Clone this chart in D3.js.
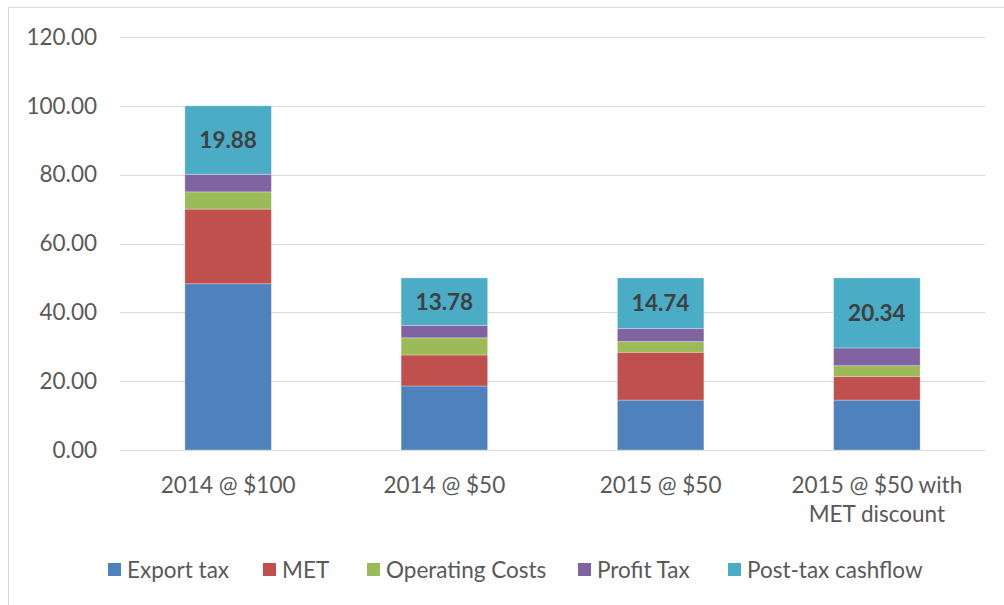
<!DOCTYPE html>
<html><head><meta charset="utf-8">
<script src="https://cdn.jsdelivr.net/npm/d3@7"></script>
<style>body{margin:0;background:#fff;} svg{display:block;font-family:Lato, "Open Sans", sans-serif;}</style>
</head><body>
<svg id="chart" width="1004" height="605"></svg>
<script>
const categories = ["2014 @ $100", "2014 @ $50", "2015 @ $50", "2015 @ $50 with MET discount"];
const seriesNames = ["Export tax", "MET", "Operating Costs", "Profit Tax", "Post-tax cashflow"];
const exportTax = [48.3, 18.6, 14.5, 14.5];
const met = [21.7, 9.0, 13.9, 6.9];
const operatingCosts = [5.0, 5.0, 3.1, 3.1];
const profitTax = [5.12, 3.62, 3.76, 5.16];
const postTaxCashflow = [19.88, 13.78, 14.74, 20.34];
const yTicks = [0, 20, 40, 60, 80, 100, 120];
const colors = ["#4f81bd", "#c0504d", "#9bbb59", "#8064a2", "#4bacc6"];

const seriesValues = [exportTax, met, operatingCosts, profitTax, postTaxCashflow];
const rows = categories.map((c, i) => {
  const r = {cat: c};
  seriesNames.forEach((s, j) => r[s] = seriesValues[j][i]);
  return r;
});
const stack = d3.stack().keys(seriesNames)(rows);

const FS = 22.5;
const svg = d3.select("#chart");
svg.append("rect").attr("x", 8.5).attr("y", 7.5).attr("width", 1010).attr("height", 620)
  .attr("fill", "none").attr("stroke", "#d9d9d9").attr("stroke-width", 1);

const pLeft = 120, pRight = 985, pTop = 37, pBottom = 450;
const x = d3.scaleBand().domain(categories).range([pLeft, pRight]).paddingInner(0.6).paddingOuter(0.3);
const y = d3.scaleLinear().domain([0, 120]).range([pBottom, pTop]);

svg.append("g").selectAll("line").data(yTicks).join("line")
  .attr("x1", pLeft).attr("x2", pRight)
  .attr("y1", d => Math.round(y(d)) + 0.5).attr("y2", d => Math.round(y(d)) + 0.5)
  .attr("stroke", "#d9d9d9").attr("stroke-width", 1);

const yAxis = d3.axisLeft(y).tickValues(yTicks).tickFormat(d3.format(".2f")).tickSize(0).tickPadding(0);
const ya = svg.append("g").attr("transform", `translate(97,0)`).call(yAxis);
ya.select(".domain").remove();
ya.selectAll("text").attr("font-size", FS).attr("fill", "#595959").attr("font-family", "Lato, sans-serif");

svg.append("g").selectAll("g").data(stack).join("g")
  .attr("fill", (d, i) => colors[i])
  .selectAll("rect").data(d => d).join("rect")
  .attr("x", d => x(d.data.cat))
  .attr("width", x.bandwidth())
  .attr("y", d => y(d[1]))
  .attr("height", d => y(d[0]) - y(d[1]))
  .attr("stroke", "#ffffff").attr("stroke-opacity", 0.35).attr("stroke-width", 0.8);

const last = stack[stack.length - 1];
svg.append("g").selectAll("text").data(last).join("text")
  .attr("x", d => x(d.data.cat) + x.bandwidth() / 2)
  .attr("y", d => (y(d[0]) + y(d[1])) / 2)
  .attr("dy", "0.35em")
  .attr("text-anchor", "middle")
  .attr("font-size", FS).attr("font-weight", "bold").attr("fill", "#404040")
  .text(d => d3.format(".2f")(d[1] - d[0]));

const xa = svg.append("g");
const catLines = [["2014 @ $100"], ["2014 @ $50"], ["2015 @ $50"], ["2015 @ $50 with", "MET discount"]];
categories.forEach((c, i) => {
  const t = xa.append("text").attr("x", x(c) + x.bandwidth() / 2).attr("y", 493)
    .attr("text-anchor", "middle").attr("font-size", FS).attr("fill", "#595959");
  catLines[i].forEach((ln, k) => t.append("tspan").attr("x", x(c) + x.bandwidth() / 2).attr("dy", k === 0 ? 0 : 29).text(ln));
});

const legendX = [108, 263, 367, 578, 728];
const lg = svg.append("g");
seriesNames.forEach((s, i) => {
  lg.append("rect").attr("x", legendX[i]).attr("y", 563).attr("width", 13).attr("height", 13).attr("fill", colors[i]);
  lg.append("text").attr("x", legendX[i] + 19).attr("y", 578).attr("font-size", FS).attr("fill", "#595959").text(s);
});
</script>
</body></html>
